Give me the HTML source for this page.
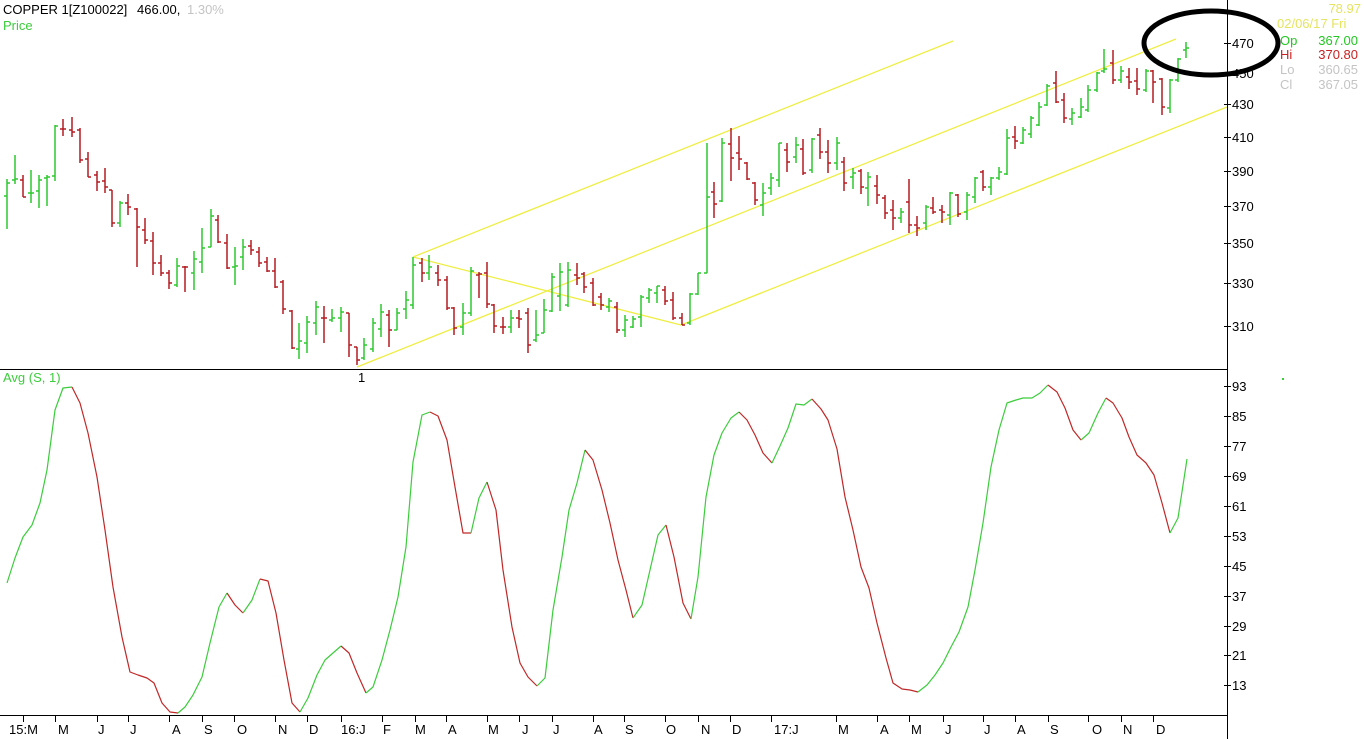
<!DOCTYPE html>
<html>
<head>
<meta charset="utf-8">
<style>
html,body{margin:0;padding:0;background:#fff;}
svg{display:block;}
text{font-family:"Liberation Sans",Arial,sans-serif;font-size:13px;}
</style>
</head>
<body>
<svg width="1364" height="739" viewBox="0 0 1364 739" xmlns="http://www.w3.org/2000/svg">
<rect width="1364" height="739" fill="#fff"/>
<g stroke="#eeee44" stroke-width="1.3" fill="none">
<line x1="413" y1="257" x2="953" y2="41"/>
<line x1="357" y1="367" x2="1176" y2="39"/>
<line x1="681" y1="325" x2="1227" y2="107"/>
<line x1="413" y1="257" x2="681" y2="325"/>
</g>
<path fill="none" stroke="#2fc82f" stroke-width="1.5" d="M7 179V229M4 196H7M7 183H10 M15 155V184M12 180H15M15 179H18 M31 170V203M28 193H31M31 193H34 M39 175V208M36 191H39M39 180H42 M47 175V206M44 178H47M47 177H50 M55 125V181M52 176H55M55 126H58 M120 201V227M117 223H120M120 203H123 M177 258V287M174 285H177M177 266H180 M194 251V290M191 273H194M194 259H197 M202 228V273M199 262H202M202 248H205 M211 209V247M208 247H211M211 216H214 M235 247V285M232 267H235M235 266H238 M243 239V270M240 257H243M243 247H246 M299 323V359M296 349H299M299 341H302 M307 316V353M304 343H307M307 322H310 M316 301V335M313 323H316M316 307H319 M332 309V322M329 320H332M332 318H335 M341 307V332M338 318H341M341 312H344 M364 338V360M361 358H364M364 345H367 M373 318V352M370 349H373M373 323H376 M381 304V337M378 329H381M381 312H384 M397 308V330M394 330H397M397 313H400 M406 291V319M403 309H406M406 300H409 M413 257V309M410 305H413M413 265H416 M429 255V280M426 273H429M429 267H432 M463 303V335M460 327H463M463 313H466 M471 267V316M468 313H471M471 271H474 M511 310V333M508 327H511M511 318H514 M536 310V342M533 340H536M536 335H539 M544 299V333M541 333H544M544 310H547 M552 273V312M549 311H552M552 277H555 M560 263V311M557 296H560M560 272H563 M568 262V307M565 305H568M568 270H571 M609 298V312M606 307H609M609 301H612 M625 315V337M622 330H625M625 320H628 M633 316V328M630 327H633M633 319H636 M641 295V327M638 317H641M641 297H644 M649 288V303M646 298H649M649 290H652 M657 286V303M654 293H657M657 286H660 M690 293V325M687 323H690M690 294H693 M698 273V295M695 294H698M698 273H701 M707 143V273M704 273H707M707 197H710 M722 138V202M719 201H722M722 143H725 M763 183V216M760 205H763M763 193H766 M771 173V195M768 188H771M771 178H774 M779 143V187M776 180H779M779 143H782 M796 137V163M793 157H796M796 145H799 M812 138V173M809 170H812M812 139H815 M837 137V170M834 163H837M837 143H840 M853 168V189M850 177H853M853 173H856 M868 172V206M865 188H868M868 177H871 M901 208V223M898 218H901M901 212H904 M926 205V230M923 223H926M926 207H929 M950 192V225M947 215H950M950 193H953 M967 192V220M964 212H967M967 195H970 M975 177V203M972 197H975M975 178H978 M991 177V195M988 187H991M991 178H994 M999 167V180M996 178H999M999 172H1002 M1007 129V175M1004 174H1007M1007 138H1010 M1023 127V144M1020 143H1023M1023 130H1026 M1031 116V138M1028 134H1031M1031 118H1034 M1039 102V126M1036 125H1039M1039 107H1042 M1047 84V106M1044 105H1047M1047 86H1050 M1072 108V125M1069 119H1072M1072 113H1075 M1081 98V118M1078 117H1081M1081 107H1084 M1088 85V112M1085 110H1088M1088 90H1091 M1097 72V92M1094 90H1097M1097 73H1100 M1104 49V73M1101 71H1104M1104 69H1107 M1121 66V83M1118 80H1121M1121 71H1124 M1146 69V92M1143 90H1146M1146 71H1149 M1170 79V113M1167 108H1170M1170 80H1173 M1178 58V82M1175 80H1178M1178 59H1181 M1186 42V58M1183 50H1186M1186 48H1189"/>
<path fill="none" stroke="#b41c22" stroke-width="1.5" d="M23 175V197M20 180H23M23 197H26 M63 119V136M60 129H63M63 129H66 M72 117V137M69 130H72M72 132H75 M80 128V163M77 130H80M80 160H83 M88 152V177M85 159H88M88 177H91 M97 171V191M94 175H97M97 182H100 M105 168V193M102 181H105M105 187H108 M112 190V227M109 190H112M112 223H115 M128 194V215M125 203H128M128 207H131 M137 208V267M134 209H137M137 227H140 M145 218V244M142 230H145M145 240H148 M153 232V275M150 241H153M153 263H156 M161 255V276M158 263H161M161 273H164 M169 270V289M166 273H169M169 283H172 M185 266V292M182 267H185M185 267H188 M218 215V243M215 220H218M218 242H221 M227 234V269M224 243H227M227 268H230 M251 240V255M248 246H251M251 250H254 M259 247V267M256 252H259M259 263H262 M267 257V272M264 262H267M267 271H270 M275 258V288M272 271H275M275 287H278 M283 280V314M280 282H283M283 309H286 M292 310V349M289 311H292M292 348H295 M324 306V343M321 318H324M324 318H327 M349 313V357M346 313H349M349 345H352 M357 347V365M354 347H357M357 360H360 M389 310V347M386 315H389M389 330H392 M422 258V282M419 263H422M422 273H425 M438 265V286M435 273H438M438 280H441 M447 276V310M444 280H447M447 308H450 M454 307V335M451 308H454M454 328H457 M479 272V298M476 275H479M479 274H482 M487 262V308M484 273H487M487 304H490 M494 304V333M491 305H494M494 326H497 M503 317V334M500 327H503M503 327H506 M519 310V328M516 318H519M519 319H522 M528 308V353M525 313H528M528 345H531 M577 263V285M574 275H577M577 278H580 M584 272V293M581 274H584M584 287H587 M593 278V306M590 283H593M593 305H596 M601 293V310M598 297H601M601 305H604 M617 302V333M614 307H617M617 330H620 M665 286V305M662 290H665M665 301H668 M673 292V320M670 300H673M673 318H676 M682 313V325M679 318H682M682 325H685 M714 182V218M711 192H714M714 204H717 M731 128V181M728 144H731M731 158H734 M739 136V170M736 153H739M739 159H742 M747 162V180M744 163H747M747 179H750 M755 182V205M752 183H755M755 200H758 M787 143V172M784 150H787M787 162H790 M803 139V175M800 149H803M803 173H806 M820 128V159M817 135H820M820 152H823 M828 140V173M825 152H828M828 163H831 M844 157V191M841 162H844M844 183H847 M861 169V194M858 171H861M861 187H864 M877 175V204M874 186H877M877 195H880 M885 195V219M882 198H885M885 213H888 M893 200V230M890 210H893M893 218H896 M909 179V233M906 202H909M909 225H912 M917 216V236M914 225H917M917 228H920 M933 197V214M930 208H933M933 212H936 M942 205V223M939 210H942M942 212H945 M958 194V217M955 195H958M958 214H961 M983 170V191M980 172H983M983 187H986 M1015 126V149M1012 137H1015M1015 141H1018 M1056 71V103M1053 83H1056M1056 102H1059 M1064 93V123M1061 100H1064M1064 118H1067 M1113 50V84M1110 63H1113M1113 80H1116 M1129 68V89M1126 77H1129M1129 82H1132 M1137 68V95M1134 81H1137M1137 89H1140 M1153 70V103M1150 71H1153M1153 82H1156 M1162 78V115M1159 79H1162M1162 107H1165"/>
<g fill="none" stroke-width="1.2" stroke-linejoin="round">
<polyline stroke="#3ccc3c" points="7,583 15,558 23,537 32,525 40,503 47,470 55,410 63,388 72,387"/>
<polyline stroke="#c02828" points="72,387 80,403 88,433 97,477 105,530 113,587 122,637 130,672 138,675 147,678 154,683 162,703 170,712 178,713"/>
<polyline stroke="#3ccc3c" points="178,713 185,707 193,695 202,677 210,643 219,607 227,593"/>
<polyline stroke="#c02828" points="227,593 235,605 243,613"/>
<polyline stroke="#3ccc3c" points="243,613 252,600 260,579"/>
<polyline stroke="#c02828" points="260,579 268,581 276,613 284,660 292,703 300,712"/>
<polyline stroke="#3ccc3c" points="300,712 308,698 317,675 325,660 333,653 341,646"/>
<polyline stroke="#c02828" points="341,646 349,653 357,673 366,693"/>
<polyline stroke="#3ccc3c" points="366,693 373,687 382,660 390,630 398,597 406,547 413,462 422,415 430,412"/>
<polyline stroke="#c02828" points="430,412 438,416 447,440 455,487 463,533 471,533"/>
<polyline stroke="#3ccc3c" points="471,533 479,498 487,482"/>
<polyline stroke="#c02828" points="487,482 496,510 503,570 512,627 520,663 528,677 537,686"/>
<polyline stroke="#3ccc3c" points="537,686 545,678 553,610 562,557 569,510 577,483 585,450"/>
<polyline stroke="#c02828" points="585,450 593,460 602,490 610,523 618,560 626,590 633,618"/>
<polyline stroke="#3ccc3c" points="633,618 642,605 650,570 658,535 666,525"/>
<polyline stroke="#c02828" points="666,525 674,557 683,603 691,619"/>
<polyline stroke="#3ccc3c" points="691,619 698,577 706,497 714,455 722,433 731,418 739,412"/>
<polyline stroke="#c02828" points="739,412 747,420 755,435 763,453 772,463"/>
<polyline stroke="#3ccc3c" points="772,463 780,446 788,428 796,404 804,405 812,399"/>
<polyline stroke="#c02828" points="812,399 821,409 828,420 837,449 845,497 853,530 861,567 869,588 877,623 886,658 893,683 902,689 910,690 918,692"/>
<polyline stroke="#3ccc3c" points="918,692 927,685 935,675 943,663 951,647 959,632 968,607 975,570 983,523 991,467 999,430 1007,403 1016,400 1023,398 1032,398 1040,393 1048,385"/>
<polyline stroke="#c02828" points="1048,385 1057,392 1065,408 1073,430 1081,440"/>
<polyline stroke="#3ccc3c" points="1081,440 1089,433 1098,413 1106,398"/>
<polyline stroke="#c02828" points="1106,398 1113,403 1122,418 1129,437 1137,455 1146,463 1154,475 1162,503 1170,533"/>
<polyline stroke="#3ccc3c" points="1170,533 1178,518 1187,459"/>
</g>
<g stroke="#000" stroke-width="1" fill="none">
<line x1="1227.5" y1="0" x2="1227.5" y2="739"/>
<line x1="0" y1="369.5" x2="1227" y2="369.5"/>
<line x1="0" y1="715.5" x2="1227" y2="715.5"/>
<path d="M1224 43.5H1231M1224 73.5H1231M1224 104.5H1231M1224 137.5H1231M1224 171.5H1231M1224 206.5H1231M1224 243.5H1231M1224 283.5H1231M1224 326.5H1231M1224 386.5H1231M1224 416.5H1231M1224 446.5H1231M1224 476.5H1231M1224 506.5H1231M1224 536.5H1231M1224 566.5H1231M1224 596.5H1231M1224 626.5H1231M1224 655.5H1231M1224 685.5H1231"/>
<path d="M23.5 715V722M55.5 715V722M97.5 715V722M128.5 715V722M169.5 715V722M202.5 715V722M234.5 715V722M275.5 715V722M307.5 715V722M341.5 715V722M382.5 715V722M415.5 715V722M446.5 715V722M487.5 715V722M519.5 715V722M552.5 715V722M593.5 715V722M624.5 715V722M665.5 715V722M698.5 715V722M730.5 715V722M771.5 715V722M836.5 715V722M877.5 715V722M909.5 715V722M943.5 715V722M983.5 715V722M1015.5 715V722M1048.5 715V722M1088.5 715V722M1121.5 715V722M1153.5 715V722"/>
</g>
<g fill="#000">
<text x="1232" y="48">470</text>
<text x="1232" y="78">450</text>
<text x="1232" y="109">430</text>
<text x="1232" y="142">410</text>
<text x="1232" y="176">390</text>
<text x="1232" y="211">370</text>
<text x="1232" y="248">350</text>
<text x="1232" y="288">330</text>
<text x="1232" y="331">310</text>
<text x="1232" y="391">93</text>
<text x="1232" y="421">85</text>
<text x="1232" y="451">77</text>
<text x="1232" y="481">69</text>
<text x="1232" y="511">61</text>
<text x="1232" y="541">53</text>
<text x="1232" y="571">45</text>
<text x="1232" y="601">37</text>
<text x="1232" y="631">29</text>
<text x="1232" y="660">21</text>
<text x="1232" y="690">13</text>
</g>
<g fill="#000">
<text x="9" y="734">15:M</text>
<text x="58" y="734">M</text>
<text x="98" y="734">J</text>
<text x="130" y="734">J</text>
<text x="172" y="734">A</text>
<text x="204" y="734">S</text>
<text x="237" y="734">O</text>
<text x="278" y="734">N</text>
<text x="309" y="734">D</text>
<text x="341" y="734">16:J</text>
<text x="383" y="734">F</text>
<text x="415" y="734">M</text>
<text x="448" y="734">A</text>
<text x="488" y="734">M</text>
<text x="522" y="734">J</text>
<text x="553" y="734">J</text>
<text x="594" y="734">A</text>
<text x="625" y="734">S</text>
<text x="666" y="734">O</text>
<text x="701" y="734">N</text>
<text x="732" y="734">D</text>
<text x="774" y="734">17:J</text>
<text x="838" y="734">M</text>
<text x="880" y="734">A</text>
<text x="911" y="734">M</text>
<text x="945" y="734">J</text>
<text x="984" y="734">J</text>
<text x="1017" y="734">A</text>
<text x="1050" y="734">S</text>
<text x="1092" y="734">O</text>
<text x="1123" y="734">N</text>
<text x="1156" y="734">D</text>
</g>
<text x="3" y="14" fill="#000">COPPER 1[Z100022]</text>
<text x="137" y="14" fill="#000">466.00,</text>
<text x="187" y="14" fill="#c4c4c4">1.30%</text>
<text x="3" y="30" fill="#3ccc3c">Price</text>
<text x="3" y="382" fill="#3ccc3c">Avg (S, 1)</text>
<text x="358" y="382" fill="#000">1</text>
<text x="1361" y="13" fill="#e4e460" text-anchor="end">78.97</text>
<text x="1277" y="28" fill="#e4e460">02/06/17 Fri</text>
<text x="1280" y="45" fill="#22c822">Op</text>
<text x="1358" y="45" fill="#22c822" text-anchor="end">367.00</text>
<text x="1280" y="59" fill="#c82222">Hi</text>
<text x="1358" y="59" fill="#c82222" text-anchor="end">370.80</text>
<text x="1280" y="74" fill="#c4c4c4">Lo</text>
<text x="1358" y="74" fill="#c4c4c4" text-anchor="end">360.65</text>
<text x="1280" y="89" fill="#c4c4c4">Cl</text>
<text x="1358" y="89" fill="#c4c4c4" text-anchor="end">367.05</text>
<rect x="1282" y="378" width="2" height="2" fill="#3ccc3c"/>
<ellipse cx="1211" cy="43" rx="67" ry="32" fill="none" stroke="#000" stroke-width="5"/>
</svg>
</body>
</html>
